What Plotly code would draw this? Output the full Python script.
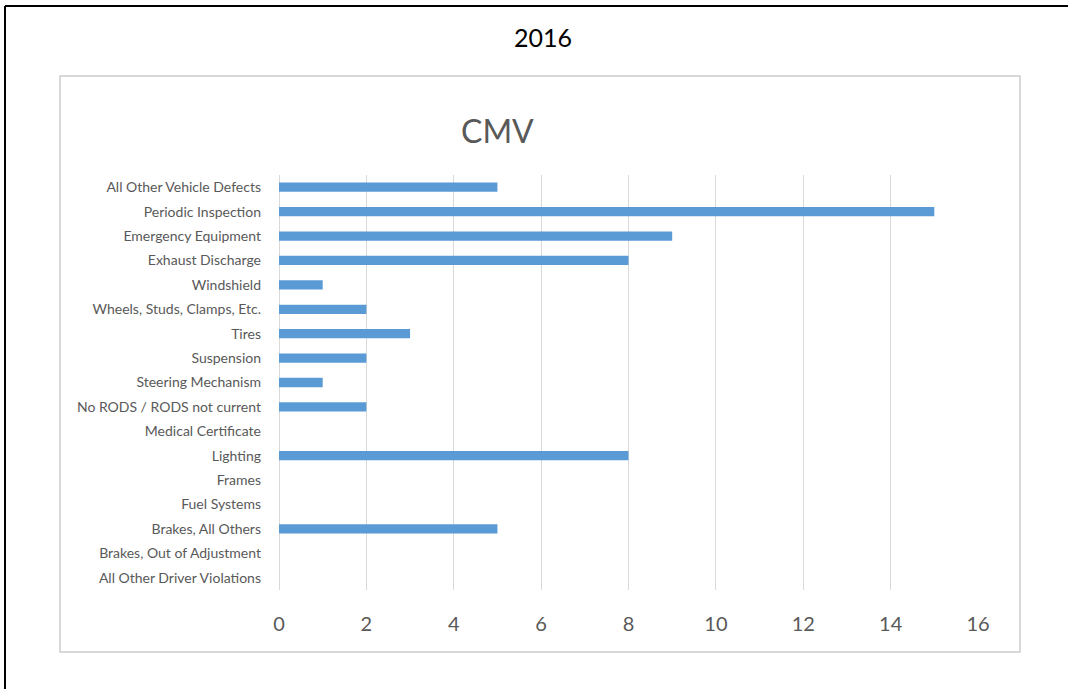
import plotly.graph_objects as go

categories = [
    "All Other Driver Violations",
    "Brakes, Out of Adjustment",
    "Brakes, All Others",
    "Fuel Systems",
    "Frames",
    "Lighting",
    "Medical Certificate",
    "No RODS / RODS not current",
    "Steering Mechanism",
    "Suspension",
    "Tires",
    "Wheels, Studs, Clamps, Etc.",
    "Windshield",
    "Exhaust Discharge",
    "Emergency Equipment",
    "Periodic Inspection",
    "All Other Vehicle Defects",
]
values = [0, 0, 5, 0, 0, 8, 0, 2, 1, 2, 3, 2, 1, 8, 9, 15, 5]
x_ticks = [0, 2, 4, 6, 8, 10, 12, 14, 16]

W, H = 1068, 689
L, R, T, B = 279, 978, 175, 590

def px(x):
    return (x - L) / (R - L)

def py(y):
    return (B - y) / (B - T)

fig = go.Figure(go.Bar(
    x=values, y=categories, orientation="h",
    marker=dict(color="#5B9BD5", line=dict(width=0)),
    hoverinfo="x+y",
))

font = "Lato, 'Open Sans', sans-serif"
fig.update_layout(
    width=W, height=H,
    margin=dict(l=L, r=W - R, t=T, b=H - B),
    paper_bgcolor="white", plot_bgcolor="white",
    bargap=0.62,
    showlegend=False,
    font=dict(family=font, color="#595959"),
    xaxis=dict(
        range=[0, 16], tickvals=x_ticks, showgrid=True, gridcolor="#d9d9d9",
        gridwidth=1, zeroline=True, zerolinecolor="#d9d9d9", zerolinewidth=1,
        showline=False, tickfont=dict(size=20, color="#595959"),
        ticklabelstandoff=20, fixedrange=True,
    ),
    yaxis=dict(
        categoryorder="array", categoryarray=categories,
        range=[-0.5, len(categories) - 0.5],
        showgrid=False, zeroline=False, showline=False,
        tickfont=dict(size=14, color="#595959"), ticklabelstandoff=17,
        fixedrange=True,
    ),
    shapes=[
        dict(type="rect", xref="paper", yref="paper",
             x0=px(60), x1=px(1020), y0=py(652), y1=py(76),
             line=dict(color="#d9d9d9", width=2), layer="below"),
        dict(type="line", xref="paper", yref="paper",
             x0=px(5), x1=px(1070), y0=py(6), y1=py(6),
             line=dict(color="black", width=2)),
        dict(type="line", xref="paper", yref="paper",
             x0=px(5), x1=px(5), y0=py(6), y1=py(700),
             line=dict(color="black", width=2)),
    ],
    annotations=[
        dict(text="2016", xref="paper", yref="paper", x=px(543), y=py(37),
             showarrow=False, font=dict(size=25, color="black", family=font),
             xanchor="center", yanchor="middle"),
        dict(text="CMV", xref="paper", yref="paper", x=px(497), y=py(130),
             showarrow=False, font=dict(size=32, color="#595959", family=font),
             xanchor="center", yanchor="middle"),
    ],
)

fig.write_html(
    "out.html",
    config={"displayModeBar": False},
    post_script="document.body.style.margin='0';document.body.style.overflow='hidden';",
)
